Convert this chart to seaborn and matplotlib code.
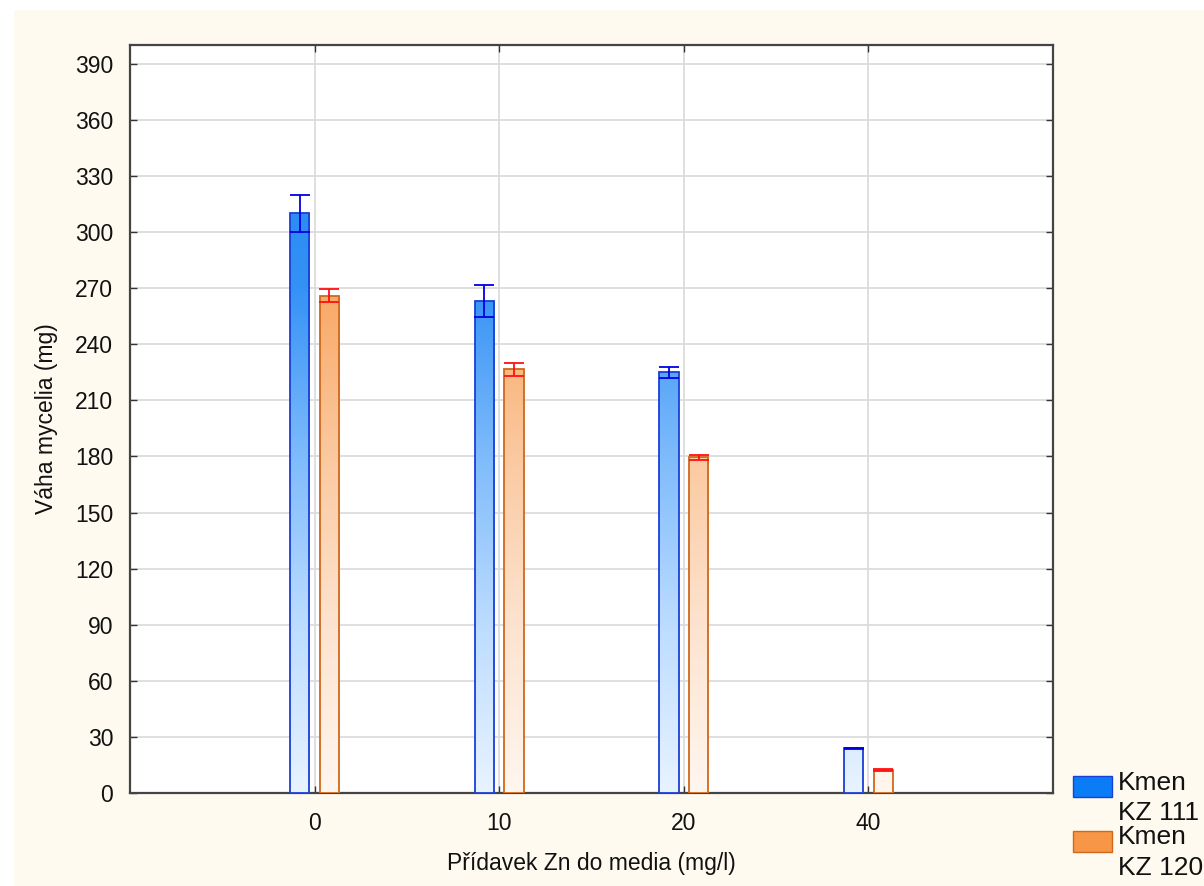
import numpy as np
import pandas as pd
import matplotlib
matplotlib.use("Agg")
import matplotlib.pyplot as plt
from matplotlib.colors import LinearSegmentedColormap
from matplotlib.patches import Rectangle
from matplotlib.legend_handler import HandlerPatch
import seaborn as sns

zn_levels = ["0", "10", "20", "40"]
strains = ["Kmen\nKZ 111", "Kmen\nKZ 120"]
kz111_mean = [310, 263, 225, 24]
kz111_err = [10, 8.5, 3, 0.3]
kz120_mean = [266, 226.5, 179.5, 12.5]
kz120_err = [3.5, 3.5, 1.5, 0.6]
y_ticks = list(range(0, 391, 30))

df = pd.DataFrame({
    "zn": zn_levels * 2,
    "kmen": [strains[0]] * 4 + [strains[1]] * 4,
    "vaha": kz111_mean + kz120_mean,
    "err": kz111_err + kz120_err,
})

sns.set_theme(style="white")
plt.rcParams["font.family"] = ["Liberation Sans", "DejaVu Sans"]

fig = plt.figure(figsize=(12.04, 8.86), dpi=100, facecolor="white")
fig.patches.append(Rectangle((14 / 1204, 0), 1 - 14 / 1204, 1 - 10 / 886,
                             transform=fig.transFigure, facecolor="#fffaf0",
                             edgecolor="none", zorder=-10))
ax = fig.add_axes([130 / 1204, 93 / 886, 923 / 1204, 748 / 886])
ax.set_facecolor("white")

main_cols = {strains[0]: "#0a7cf5", strains[1]: "#f79646"}
edge_cols = {strains[0]: "#1a3fd8", strains[1]: "#d0681c"}
err_cols = {strains[0]: "#0000e6", strains[1]: "#ff1010"}

sns.barplot(data=df, x="zn", y="vaha", hue="kmen", order=zn_levels,
            hue_order=strains, palette=main_cols, width=0.32, gap=0.35,
            errorbar=None, ax=ax, legend=False, zorder=3)

YMAX = 400
ax.set_xlim(-1, 4)
ax.set_ylim(0, YMAX)

cmaps = {
    strains[0]: LinearSegmentedColormap.from_list("b", ["#e8f3ff", "#bcdcff", "#7ebbfb", "#3592f5", "#2086f3"]),
    strains[1]: LinearSegmentedColormap.from_list("o", ["#fff6ef", "#fde3cf", "#fbc9a0", "#f8a865", "#f79646"]),
}
grad = np.linspace(0, 1, 256).reshape(-1, 1)

bars = [p for p in ax.patches]
for i, p in enumerate(bars):
    s = strains[i // len(zn_levels)]
    j = i % len(zn_levels)
    x0, w, h = p.get_x(), p.get_width(), p.get_height()
    p.set_facecolor("none")
    p.set_edgecolor(edge_cols[s])
    p.set_linewidth(1.3)
    p.set_zorder(4)
    im = ax.imshow(grad, cmap=cmaps[s], origin="lower", aspect="auto",
                   extent=[x0, x0 + w, 0, 360], zorder=3, interpolation="bilinear")
    im.set_clip_path(p)
    e = df.loc[(df.kmen == s) & (df.zn == zn_levels[j]), "err"].values[0]
    ax.errorbar(x0 + w / 2, h, yerr=e, color=err_cols[s], capsize=7,
                elinewidth=1.3, capthick=1.3, zorder=5, fmt="none")

ax.set_xlim(-1, 4)
ax.set_ylim(0, YMAX)
ax.set_yticks(y_ticks)
ax.grid(True, color="#dcdcdc", linewidth=1.3, zorder=0)
ax.set_axisbelow(True)
ax.tick_params(axis="both", direction="in", length=5, width=1, color="#333333",
               labelsize=16.5, labelcolor="#111111", top=True, right=True,
               left=True, bottom=True)
ax.tick_params(axis="x", pad=14)
ax.tick_params(axis="y", pad=12)
for sp in ax.spines.values():
    sp.set_color("#444444")
    sp.set_linewidth(1.6)

ax.set_xlabel("Přídavek Zn do media (mg/l)", fontsize=16.5, labelpad=12, color="#111111")
ax.set_ylabel("Váha mycelia (mg)", fontsize=16.5, labelpad=12, color="#111111")


def top_patch(legend, orig_handle, xdescent, ydescent, width, height, fontsize):
    return Rectangle((-xdescent, -ydescent + height * 0.55), width, height * 0.46)


handles = [Rectangle((0, 0), 1, 1, facecolor=main_cols[s], edgecolor=edge_cols[s]) for s in strains]
leg = fig.legend(handles, strains, loc="lower left", bbox_to_anchor=(1073 / 1204, 6 / 886),
                 frameon=False, fontsize=19, handlelength=1.48, handleheight=2.3,
                 handletextpad=0.22, labelspacing=0.0, borderpad=0, borderaxespad=0,
                 handler_map={Rectangle: HandlerPatch(patch_func=top_patch)})
for t in leg.get_texts():
    t.set_color("#111111")
    t.set_linespacing(1.35)

fig.savefig("out.png", dpi=100, facecolor=fig.get_facecolor())
